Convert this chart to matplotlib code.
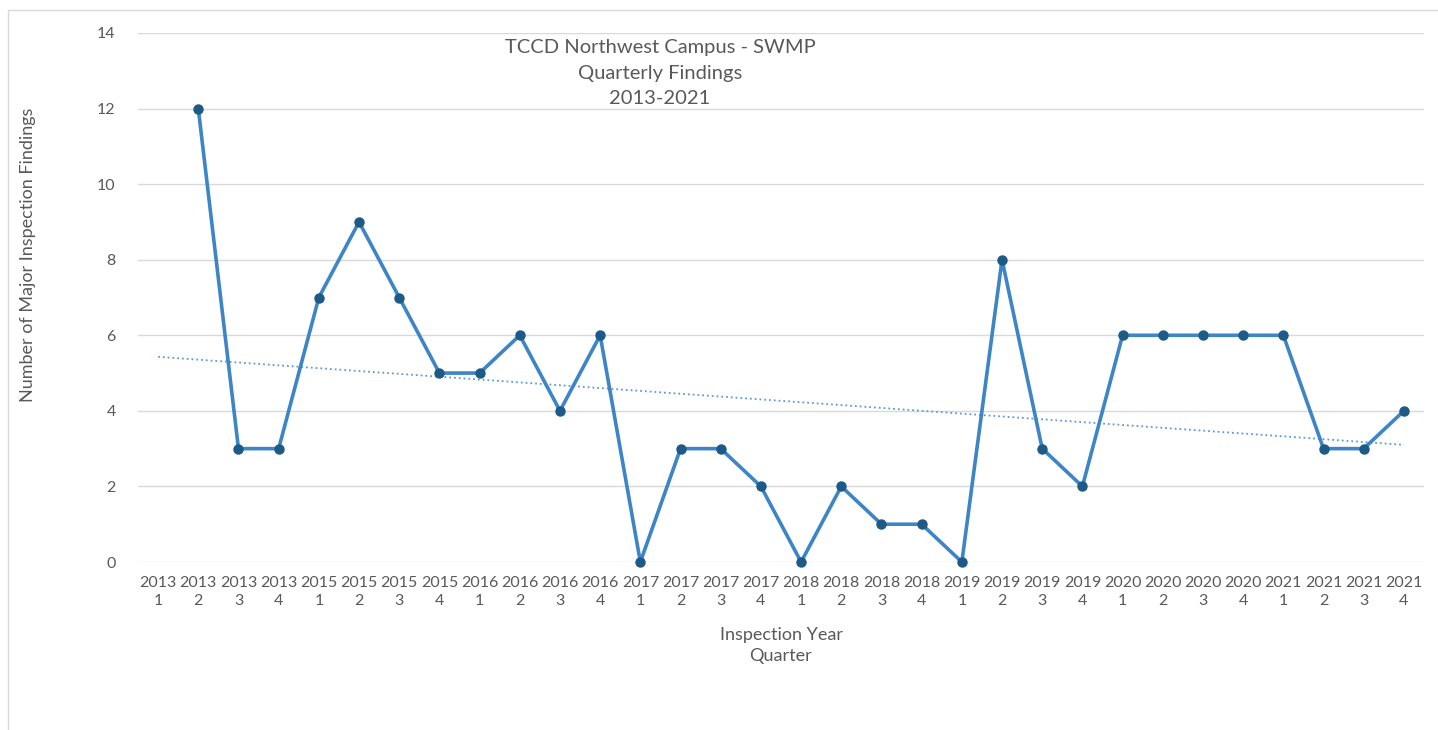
import numpy as np
import matplotlib
matplotlib.use("Agg")
from matplotlib import pyplot as plt
from matplotlib.patches import Rectangle

plt.rcParams['font.family'] = ['Lato', 'DejaVu Sans']

years = ["2013"] * 4 + ["2015"] * 4 + ["2016"] * 4 + ["2017"] * 4 + \
        ["2018"] * 4 + ["2019"] * 4 + ["2020"] * 4 + ["2021"] * 4
quarters = ["1", "2", "3", "4"] * 8
# first quarter of 2013 has no value
findings = [np.nan, 12, 3, 3, 7, 9, 7, 5, 5, 6, 4, 6, 0, 3, 3, 2,
            0, 2, 1, 1, 0, 8, 3, 2, 6, 6, 6, 6, 6, 3, 3, 4]
# trendline ends
trend_ends = [5.43, 3.1]

gray = "#595959"
x = np.arange(1, len(findings) + 1)

fig = plt.figure(figsize=(14.38, 7.30), dpi=100)
fig.patches.append(Rectangle((8 / 1438, -0.01), 1.0, 1 - 10 / 730 + 0.01,
                             transform=fig.transFigure, fill=False,
                             edgecolor="#d9d9d9", linewidth=1))
ax = fig.add_axes([138 / 1438, 1 - 562 / 730, (1424 - 138) / 1438, (562 - 33) / 730])

ax.plot(x, findings, color="#3d85c6", linewidth=2.6, marker="o",
        markersize=6.5, markerfacecolor="#1d5a87", markeredgecolor="#1d5a87",
        zorder=3, clip_on=False)
ax.plot([x[0], x[-1]], trend_ends, color="#5b9bd5", linestyle=":", linewidth=1.3, zorder=2)

ax.set_xlim(0.5, len(findings) + 0.5)
ax.set_ylim(0, 14)
ax.set_yticks(np.arange(0, 15, 2))
ax.grid(axis="y", color="#d9d9d9", linewidth=1)
ax.set_axisbelow(True)
for s in ax.spines.values():
    s.set_visible(False)
ax.tick_params(axis="both", length=0, colors=gray, labelsize=11.5)
ax.tick_params(axis="y", pad=16)
ax.tick_params(axis="x", pad=10)
ax.set_xticks(x)
ax.set_xticklabels([y + "\n" + q for y, q in zip(years, quarters)], linespacing=1.35)

ax.set_xlabel("Inspection Year\nQuarter", color=gray, fontsize=13, labelpad=14, linespacing=1.35)
fig.text(28 / 1438, 1 - 255 / 730, "Number of Major Inspection Findings", rotation=90,
         ha="center", va="center", color=gray, fontsize=13)
fig.text(660 / 1438, 1 - 73 / 730, "TCCD Northwest Campus - SWMP\nQuarterly Findings\n2013-2021",
         ha="center", va="center", color=gray, fontsize=14.5, linespacing=1.6)

fig.savefig("out.png", dpi=100)
